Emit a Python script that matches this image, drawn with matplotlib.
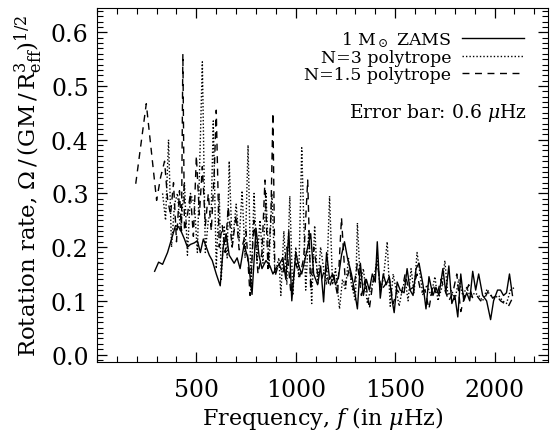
import matplotlib
matplotlib.use("Agg")
import matplotlib.pyplot as plt
from matplotlib.ticker import MultipleLocator, FixedLocator, FormatStrFormatter

# 1 Msun ZAMS model (solid)
zams_freq = [290, 310, 330, 355, 375, 395, 410, 425, 440, 455, 470, 490, 505, 520, 535,
             550, 565, 580, 600, 620, 635, 650, 665, 690, 705, 720, 740, 760, 780, 800,
             815, 830, 850, 870, 885, 900, 920, 935, 950, 965, 980, 1000, 1015, 1030, 1045,
             1060, 1075, 1090, 1110, 1125, 1140, 1155, 1170, 1185, 1200, 1215, 1230, 1245,
             1260, 1280, 1295, 1310, 1325, 1340, 1355, 1370, 1385, 1400, 1410, 1425, 1440,
             1455, 1470, 1485, 1495, 1510, 1525, 1545, 1560, 1575, 1590, 1605, 1620, 1640,
             1655, 1670, 1690, 1705, 1720, 1740, 1755, 1770, 1785, 1800, 1815, 1830, 1845,
             1860, 1875, 1890, 1905, 1920, 1940, 1960, 1980, 1995, 2015, 2030, 2045, 2060,
             2075, 2090]
zams_rate = [0.155, 0.172, 0.168, 0.190, 0.215, 0.240, 0.238, 0.228, 0.215, 0.200, 0.205,
             0.208, 0.212, 0.190, 0.215, 0.200, 0.185, 0.175, 0.150, 0.128, 0.200, 0.225,
             0.185, 0.170, 0.180, 0.160, 0.205, 0.178, 0.112, 0.235, 0.185, 0.160, 0.175,
             0.165, 0.150, 0.160, 0.170, 0.180, 0.140, 0.230, 0.100, 0.190, 0.165, 0.150,
             0.175, 0.200, 0.225, 0.150, 0.130, 0.165, 0.098, 0.190, 0.140, 0.150, 0.130,
             0.145, 0.185, 0.210, 0.180, 0.150, 0.120, 0.085, 0.170, 0.110, 0.140, 0.120,
             0.150, 0.135, 0.210, 0.105, 0.150, 0.130, 0.145, 0.100, 0.078, 0.135, 0.120,
             0.115, 0.160, 0.120, 0.110, 0.160, 0.170, 0.130, 0.085, 0.145, 0.110, 0.125,
             0.110, 0.160, 0.115, 0.165, 0.095, 0.110, 0.070, 0.150, 0.100, 0.115, 0.100,
             0.155, 0.120, 0.150, 0.110, 0.100, 0.065, 0.100, 0.120, 0.120, 0.110, 0.115,
             0.150, 0.110]

# N=3 polytrope (dotted)
n3_freq = [330, 345, 360, 375, 390, 405, 420, 440, 455, 470, 490, 505, 515, 530, 545, 560,
           575, 585, 600, 615, 625, 640, 655, 665, 680, 700, 715, 730, 745, 760, 775, 790,
           805, 820, 835, 850, 865, 880, 895, 915, 925, 940, 955, 970, 985, 1000, 1015, 1030,
           1050, 1065, 1080, 1095, 1110, 1125, 1140, 1155, 1170, 1185, 1200, 1220, 1235, 1250,
           1265, 1280, 1300, 1310, 1325, 1340, 1360, 1375, 1390, 1410, 1425, 1440, 1460, 1475,
           1490, 1505, 1520, 1535, 1550, 1565, 1580, 1595, 1610, 1625, 1640, 1660, 1680, 1700,
           1715, 1735, 1750, 1765, 1785, 1800, 1820, 1840, 1860, 1880, 1900, 1920, 1940, 1960,
           1980, 2000, 2020, 2040, 2060, 2080, 2100]
n3_rate = [0.300, 0.250, 0.400, 0.200, 0.280, 0.300, 0.230, 0.320, 0.185, 0.300, 0.280,
           0.190, 0.330, 0.545, 0.190, 0.250, 0.270, 0.435, 0.160, 0.300, 0.140, 0.240,
           0.180, 0.360, 0.200, 0.280, 0.210, 0.305, 0.180, 0.390, 0.120, 0.300, 0.170,
           0.250, 0.170, 0.300, 0.160, 0.300, 0.150, 0.180, 0.110, 0.230, 0.130, 0.295,
           0.110, 0.200, 0.145, 0.385, 0.120, 0.230, 0.095, 0.240, 0.130, 0.200, 0.160,
           0.130, 0.295, 0.130, 0.160, 0.085, 0.140, 0.120, 0.180, 0.130, 0.100, 0.245,
           0.130, 0.160, 0.095, 0.120, 0.135, 0.180, 0.120, 0.140, 0.210, 0.090, 0.150,
           0.120, 0.090, 0.120, 0.140, 0.100, 0.160, 0.115, 0.190, 0.150, 0.110, 0.130,
           0.110, 0.145, 0.100, 0.125, 0.175, 0.110, 0.120, 0.100, 0.140, 0.110, 0.125,
           0.105, 0.115, 0.110, 0.100, 0.120, 0.110, 0.105, 0.110, 0.100, 0.095, 0.120,
           0.125]

# N=1.5 polytrope (dashed)
n15_freq = [195, 248, 300, 320, 340, 355, 370, 385, 400, 415, 425, 432, 440, 455, 470, 485,
            500, 515, 530, 545, 560, 575, 590, 600, 615, 630, 645, 660, 680, 700, 715, 730,
            750, 770, 790, 810, 830, 845, 860, 875, 885, 895, 915, 935, 955, 975, 1000, 1020,
            1040, 1060, 1075, 1090, 1110, 1130, 1150, 1170, 1190, 1210, 1230, 1250, 1270,
            1290, 1310, 1330, 1350, 1370, 1390, 1410, 1430, 1450, 1470, 1490, 1510, 1530,
            1550, 1570, 1590, 1610, 1630, 1650, 1670, 1690, 1710, 1730, 1750, 1770, 1790,
            1810, 1830, 1850, 1870, 1890, 1910, 1930, 1950, 1970, 1990, 2010, 2030, 2050,
            2070, 2090]
n15_rate = [0.318, 0.467, 0.287, 0.330, 0.360, 0.290, 0.260, 0.320, 0.210, 0.305, 0.230,
            0.560, 0.230, 0.260, 0.300, 0.220, 0.370, 0.260, 0.350, 0.240, 0.300, 0.230,
            0.340, 0.455, 0.200, 0.240, 0.190, 0.275, 0.200, 0.260, 0.195, 0.200, 0.230,
            0.110, 0.250, 0.150, 0.190, 0.325, 0.160, 0.260, 0.450, 0.145, 0.170, 0.150,
            0.200, 0.115, 0.170, 0.145, 0.180, 0.325, 0.120, 0.200, 0.150, 0.140, 0.165,
            0.125, 0.150, 0.110, 0.255, 0.130, 0.160, 0.120, 0.170, 0.110, 0.140, 0.085,
            0.140, 0.170, 0.120, 0.130, 0.145, 0.095, 0.120, 0.110, 0.150, 0.120, 0.125,
            0.150, 0.115, 0.120, 0.085, 0.130, 0.110, 0.140, 0.120, 0.100, 0.115, 0.150,
            0.080, 0.110, 0.130, 0.105, 0.110, 0.100, 0.105, 0.120, 0.105, 0.110, 0.100,
            0.095, 0.090, 0.105]

freq_ticks = [500, 1000, 1500, 2000]


def main() -> None:
    plt.rcParams["font.family"] = "DejaVu Serif"
    plt.rcParams["mathtext.fontset"] = "dejavuserif"

    fig = plt.figure(figsize=(5.51, 4.35), dpi=100)
    ax = fig.add_axes([0.176, 0.166, 0.819, 0.813])

    ax.plot(zams_freq, zams_rate, color="black", lw=1.0, ls="-", label=r"1 M$_\odot$ ZAMS")
    ax.plot(n3_freq, n3_rate, color="black", lw=1.0, ls=(0, (1, 1.5)), label="N=3 polytrope")
    ax.plot(n15_freq, n15_rate, color="black", lw=1.0, ls=(0, (5, 4)), label="N=1.5 polytrope")

    ax.set_xlim(0, 2270)
    ax.set_ylim(-0.0135, 0.645)
    ax.xaxis.set_major_locator(FixedLocator(freq_ticks))
    ax.xaxis.set_minor_locator(MultipleLocator(100))
    ax.yaxis.set_major_locator(MultipleLocator(0.1))
    ax.yaxis.set_minor_locator(MultipleLocator(0.01))
    ax.yaxis.set_major_formatter(FormatStrFormatter("%.1f"))
    ax.tick_params(which="both", direction="in", top=True, right=True, labelsize=17)
    ax.tick_params(which="major", length=7, width=0.9)
    ax.tick_params(which="minor", length=4, width=0.8)
    ax.tick_params(axis="x", pad=12)
    ax.tick_params(axis="y", pad=6)

    ax.set_xlabel(r"Frequency, $f$ (in $\mu$Hz)", fontsize=16, labelpad=2)
    ax.set_ylabel(r"Rotation rate, $\Omega\,/\,(\mathrm{GM\,/\,R^{3}_{eff}})^{1/2}$",
                  fontsize=16.5, labelpad=4)

    ax.legend(loc="upper right", bbox_to_anchor=(0.947, 0.94), frameon=False, markerfirst=False,
              fontsize=12.5, handlelength=3.6, handletextpad=0.6, labelspacing=0.0,
              borderaxespad=0, borderpad=0)
    ax.text(0.953, 0.705, r"Error bar: 0.6 $\mu$Hz", transform=ax.transAxes,
            ha="right", va="center", fontsize=13.5)

    fig.savefig("out.png", dpi=100)


if __name__ == "__main__":
    main()
